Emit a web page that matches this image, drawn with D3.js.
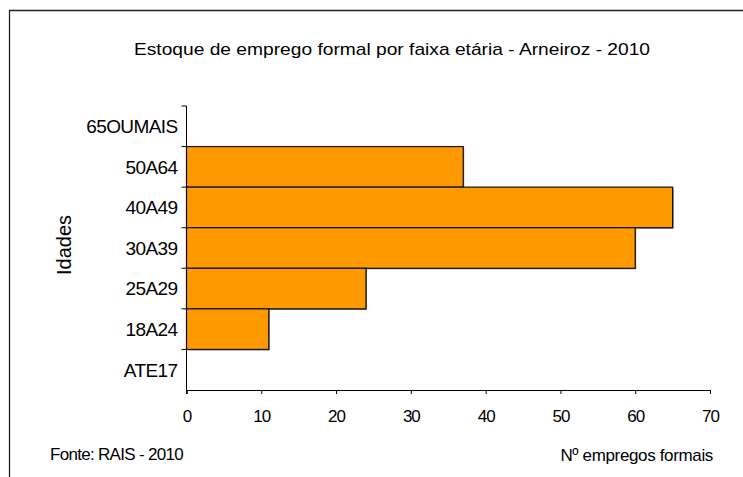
<!DOCTYPE html>
<html>
<head>
<script src="https://cdn.jsdelivr.net/npm/d3@7"></script>
<meta charset="utf-8">
<style>
body {
  margin: 0;
  background: white;
  font-family: "Liberation Sans", Arial, sans-serif;
}
</style>
</head>
<body>
<div class="chart"></div>

<script>

// age groups, top to bottom
var categories = ["65OUMAIS", "50A64", "40A49", "30A39", "25A29", "18A24", "ATE17"];
var values = [0, 37, 65, 60, 24, 11, 0];
var xTicks = [0, 10, 20, 30, 40, 50, 60, 70];

var width = 743,
    height = 477;

var plotLeft = 186.5,
    plotRight = 710,
    plotTop = 106,
    plotBottom = 390;

var svg = d3.select(".chart")
  .append("svg")
  .attr("width", width)
  .attr("height", height);

// outer frame (right & bottom edges are cut off)
svg.append("path")
  .attr("d", "M9.5," + (height + 2) + "V10.5H" + (width + 2))
  .attr("fill", "none")
  .attr("stroke", "#222")
  .attr("stroke-width", 1.3);

var x = d3.scaleLinear()
  .domain([0, 70])
  .range([plotLeft, plotRight]);

var y = d3.scaleBand()
  .domain(categories)
  .range([plotTop, plotBottom])
  .padding(0);

var data = categories.map(function(c, i) { return {cat: c, val: values[i]}; })
  .filter(function(d) { return d.val > 0; });

// bars, with a small grey drop shadow
var bars = svg.append("g");
bars.selectAll("rect.shadow")
  .data(data)
  .enter().append("rect")
  .attr("class", "shadow")
  .attr("x", x(0) + 1)
  .attr("y", function(d) { return y(d.cat) + 1; })
  .attr("width", function(d) { return x(d.val) - x(0); })
  .attr("height", y.bandwidth())
  .attr("fill", "#777");

bars.selectAll("rect.bar")
  .data(data)
  .enter().append("rect")
  .attr("class", "bar")
  .attr("x", x(0))
  .attr("y", function(d) { return y(d.cat); })
  .attr("width", function(d) { return x(d.val) - x(0); })
  .attr("height", y.bandwidth())
  .attr("fill", "#ff9900")
  .attr("stroke", "#111")
  .attr("stroke-width", 1.2);

// x axis
var xAxis = svg.append("g")
  .attr("transform", "translate(0," + plotBottom + ")")
  .call(d3.axisBottom(x).tickValues(xTicks).tickSize(4).tickPadding(16));
xAxis.selectAll("text")
  .style("font-size", "17px")
  .style("letter-spacing", "-1px")
  .style("font-family", "Liberation Sans, Arial, sans-serif")
  .attr("fill", "#000");
xAxis.select(".domain").attr("stroke", "#000");
xAxis.selectAll(".tick line").attr("stroke", "#000");

// y axis: ticks on the band edges, labels in the middle
var yAxis = svg.append("g")
  .attr("transform", "translate(" + plotLeft + ",0)");
yAxis.append("line")
  .attr("y1", plotTop).attr("y2", plotBottom + 4)
  .attr("stroke", "#000");
yAxis.selectAll("line.edge")
  .data(categories)
  .enter().append("line")
  .attr("class", "edge")
  .attr("x1", -5).attr("x2", 0)
  .attr("y1", function(d) { return y(d); })
  .attr("y2", function(d) { return y(d); })
  .attr("stroke", "#000");
yAxis.selectAll("text")
  .data(categories)
  .enter().append("text")
  .attr("x", -9)
  .attr("y", function(d) { return y(d) + y.bandwidth() / 2; })
  .attr("dy", "0.36em")
  .attr("text-anchor", "end")
  .style("font-size", "19px")
  .style("letter-spacing", "-0.6px")
  .text(function(d) { return d; });

// titles
svg.append("text")
  .attr("transform", "translate(392,55) scale(1.2,1)")
  .attr("text-anchor", "middle")
  .style("font-size", "16px")
  .text("Estoque de emprego formal por faixa etária - Arneiroz - 2010");

svg.append("text")
  .attr("transform", "translate(71,245) rotate(-90)")
  .attr("text-anchor", "middle")
  .style("font-size", "20px")
  .text("Idades");

svg.append("text")
  .attr("x", 50)
  .attr("y", 460)
  .style("font-size", "17px")
  .style("letter-spacing", "-0.7px")
  .text("Fonte: RAIS - 2010");

svg.append("text")
  .attr("x", 713)
  .attr("y", 461)
  .attr("text-anchor", "end")
  .style("font-size", "17px")
  .style("letter-spacing", "-0.35px")
  .text("Nº empregos formais");

</script>
</body>
</html>
